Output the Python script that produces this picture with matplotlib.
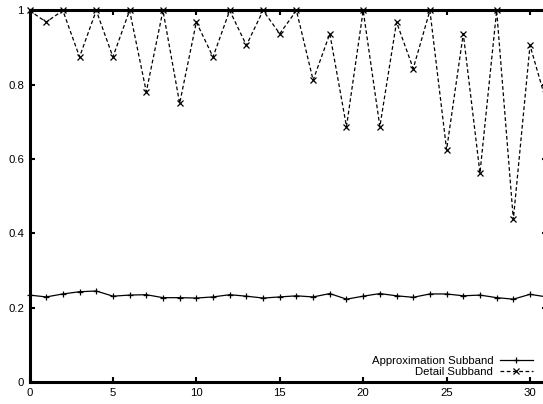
import numpy as np
import matplotlib
matplotlib.use('Agg')
from matplotlib import pyplot as plt
from matplotlib.ticker import FuncFormatter

# subband index
idx = np.arange(32)

# approximation subband values
approx = [0.234, 0.229, 0.237, 0.243, 0.245, 0.231, 0.234, 0.235,
          0.227, 0.227, 0.226, 0.229, 0.235, 0.231, 0.226, 0.229,
          0.232, 0.229, 0.238, 0.223, 0.231, 0.238, 0.232, 0.228,
          0.237, 0.237, 0.232, 0.234, 0.227, 0.223, 0.236, 0.229]

# detail subband values
detail = [1.0, 0.96875, 1.0, 0.875, 1.0, 0.875, 1.0, 0.78125,
          1.0, 0.75, 0.96875, 0.875, 1.0, 0.90625, 1.0, 0.9375,
          1.0, 0.8125, 0.9375, 0.6875, 1.0, 0.6875, 0.96875, 0.84375,
          1.0, 0.625, 0.9375, 0.5625, 1.0, 0.4375, 0.90625, 0.75]

x_ticks = [0, 5, 10, 15, 20, 25, 30]
y_ticks = [0, 0.2, 0.4, 0.6, 0.8, 1.0]

plt.rcParams['font.family'] = ['Liberation Sans', 'DejaVu Sans']
plt.rcParams['font.size'] = 8.2

fig = plt.figure(figsize=(5.43, 4.04), dpi=100)
# right border sits just past the figure edge
ax = fig.add_axes([29.5 / 543, 22 / 404, 517.2 / 543, 371.5 / 404])

ax.plot(idx, approx, color='black', lw=0.9, marker='+', ms=5, mew=0.9,
        label='Approximation Subband', zorder=3, clip_on=False)
ax.plot(idx, detail, color='black', lw=0.9, ls=(0, (3, 2)), marker='x', ms=4.8,
        mew=0.9, label='Detail Subband', zorder=3, clip_on=False)

ax.set_xlim(0, 31)
ax.set_ylim(0, 1)
ax.set_xticks(x_ticks)
ax.set_yticks(y_ticks)
ax.yaxis.set_major_formatter(FuncFormatter(lambda v, p: '%g' % v))

for s in ax.spines.values():
    s.set_linewidth(2.2)
ax.tick_params(direction='in', length=3.5, width=1.5, top=True, right=True,
               pad=4, labelsize=8.2)

fig.legend(loc='lower right', bbox_to_anchor=(533 / 543, 27 / 404),
           frameon=False, markerfirst=False, handlelength=2.9,
           handletextpad=0.6, labelspacing=0.1, borderpad=0, borderaxespad=0,
           fontsize=8.2)

fig.savefig('out.png', dpi=100)
